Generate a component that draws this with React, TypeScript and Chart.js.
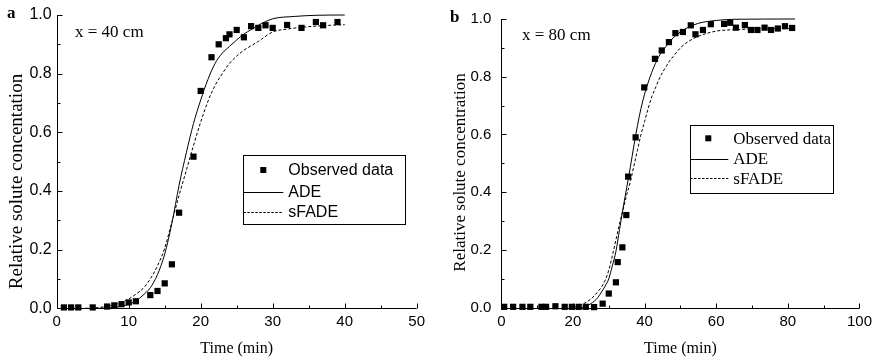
import React, { useEffect, useRef } from "react";
import { Chart, registerables } from "chart.js";

Chart.register(...registerables);

// ---------- Panel a (x = 40 cm) ----------
const aObsTime = [1, 2, 3, 5, 7, 8, 9, 10, 11, 13, 14, 15, 16, 17, 19, 20, 21.5, 22.5, 23.5, 24, 25, 26, 27, 28, 29, 30, 32, 34, 36, 37, 39];
const aObsConc = [0.003, 0.003, 0.003, 0.003, 0.006, 0.010, 0.014, 0.020, 0.024, 0.045, 0.059, 0.085, 0.150, 0.326, 0.517, 0.741, 0.856, 0.900, 0.921, 0.934, 0.949, 0.924, 0.962, 0.956, 0.965, 0.956, 0.966, 0.956, 0.976, 0.965, 0.976];
const aAdeTime = [6, 7, 8, 9, 10, 11, 12, 13, 14, 15, 16, 17, 18, 19, 20, 21, 22, 23, 24, 25, 26, 27, 28, 30, 33, 36, 40];
const aAdeConc = [0, 0.001, 0.003, 0.007, 0.014, 0.025, 0.045, 0.07, 0.115, 0.185, 0.29, 0.42, 0.53, 0.63, 0.71, 0.78, 0.835, 0.87, 0.893, 0.915, 0.935, 0.95, 0.965, 0.987, 0.995, 0.999, 1.0];
const aFadeTime = [4, 5, 6, 7, 8, 9, 10, 11, 12, 13, 14, 15, 16, 17, 18, 19, 20, 21, 22, 23, 24, 25, 26, 27, 28, 30, 32, 34, 36, 38, 40];
const aFadeConc = [0, 0.001, 0.003, 0.007, 0.012, 0.02, 0.032, 0.048, 0.068, 0.1, 0.145, 0.205, 0.295, 0.385, 0.47, 0.555, 0.635, 0.705, 0.76, 0.80, 0.835, 0.86, 0.88, 0.895, 0.91, 0.942, 0.952, 0.958, 0.962, 0.965, 0.967];

// ---------- Panel b (x = 80 cm) ----------
const bObsTime = [0.8, 3.3, 5.9, 8.1, 11.2, 12.5, 15.1, 17.7, 19.7, 21.6, 23.6, 25.9, 28.3, 30, 32, 32.5, 33.8, 34.9, 35.4, 37.5, 39.9, 42.9, 44.8, 46.8, 48.6, 50.7, 52.9, 54.2, 56.3, 58.5, 62.2, 63.9, 65.5, 68, 69.7, 71.5, 73.5, 75.3, 77.2, 79.2, 81.2];
const bObsConc = [0.003, 0.003, 0.003, 0.003, 0.003, 0.003, 0.005, 0.003, 0.003, 0.003, 0.003, 0.002, 0.014, 0.049, 0.088, 0.158, 0.209, 0.321, 0.454, 0.590, 0.763, 0.862, 0.891, 0.920, 0.951, 0.955, 0.978, 0.947, 0.962, 0.982, 0.983, 0.987, 0.970, 0.979, 0.962, 0.962, 0.970, 0.962, 0.967, 0.975, 0.969];
const bAdeTime = [22, 23, 24, 25, 26, 27, 28, 29, 30, 31, 32, 33, 34, 35, 36, 37, 38, 39, 40, 41, 42, 43, 44, 45, 46, 48, 50, 52, 55, 60, 65, 82];
const bAdeConc = [0, 0.002, 0.007, 0.014, 0.023, 0.036, 0.055, 0.075, 0.10, 0.145, 0.195, 0.27, 0.345, 0.415, 0.485, 0.56, 0.63, 0.69, 0.74, 0.78, 0.815, 0.845, 0.87, 0.89, 0.905, 0.935, 0.955, 0.97, 0.985, 0.995, 0.999, 1.0];
const bFadeTime = [19, 20, 21, 22, 23, 24, 25, 26, 27, 28, 29, 30, 31, 32, 33, 34, 35, 36, 37, 38, 39, 40, 41, 42, 43, 44, 45, 46, 47, 48, 50, 52, 55, 60, 65, 70, 82];
const bFadeConc = [0, 0.001, 0.004, 0.008, 0.014, 0.021, 0.03, 0.042, 0.056, 0.072, 0.095, 0.13, 0.18, 0.235, 0.29, 0.34, 0.39, 0.435, 0.49, 0.545, 0.60, 0.645, 0.69, 0.73, 0.76, 0.79, 0.815, 0.835, 0.855, 0.87, 0.90, 0.92, 0.94, 0.958, 0.963, 0.965, 0.967];

const legendLabels = ["Observed data", "ADE", "sFADE"];
const yTickValues = [0, 0.2, 0.4, 0.6, 0.8, 1.0];

const SERIF = "'Liberation Serif', 'Times New Roman', serif";
const SANS = "'Liberation Sans', Arial, sans-serif";

const zip = (xs: number[], ys: number[]) => xs.map((x, i) => ({ x, y: ys[i] }));

type PanelCfg = {
  width: number;
  height: number;
  padTop: number;
  padRight: number;
  yAxisWidth: number;
  xAxisHeight: number;
  xMax: number;
  xMajor: number;
  xMinor: number;
  yTickFont: number;
  yTickPad: number;
  obsT: number[];
  obsC: number[];
  adeT: number[];
  adeC: number[];
  fadeT: number[];
  fadeC: number[];
  letter: string;
  letterX: number;
  letterY: number;
  posText: string;
  posX: number;
  posY: number;
  yTitle: string;
  yTitleFont: number;
  yTitleX: number;
  yTitleY: number;
  legend: { l: number; t: number; r: number; b: number; rows: number[]; textX: number; markX: number; lineEnd: number; font: string };
};

function makeChart(canvas: HTMLCanvasElement, c: PanelCfg) {
  const decor = {
    id: "decor",
    afterDraw(chart: any) {
      const { ctx, chartArea } = chart;
      const { left, right, top, bottom } = chartArea;
      const xs = chart.scales.x;
      const ys = chart.scales.y;
      ctx.save();
      ctx.strokeStyle = "#000";
      ctx.fillStyle = "#000";
      ctx.lineWidth = 1;
      const L = Math.round(left) + 0.5;
      const B = Math.round(bottom) + 0.5;
      ctx.beginPath();
      ctx.moveTo(L, top);
      ctx.lineTo(L, B);
      ctx.lineTo(right, B);
      ctx.stroke();
      for (let v = 0; v <= c.xMax + 1e-9; v += c.xMinor) {
        const px = Math.round(xs.getPixelForValue(v)) + 0.5;
        const major = Math.abs(v / c.xMajor - Math.round(v / c.xMajor)) < 1e-6;
        ctx.beginPath();
        ctx.moveTo(px, B);
        ctx.lineTo(px, B - (major ? 5 : 3));
        ctx.stroke();
      }
      for (let i = 0; i <= 10; i++) {
        const v = i / 10;
        const py = Math.round(ys.getPixelForValue(v)) + 0.5;
        ctx.beginPath();
        ctx.moveTo(L, py);
        ctx.lineTo(L + (i % 2 === 0 ? 5 : 3), py);
        ctx.stroke();
      }
      ctx.font = `bold 17px ${SERIF}`;
      ctx.textAlign = "left";
      ctx.textBaseline = "alphabetic";
      ctx.fillText(c.letter, c.letterX, c.letterY);
      ctx.font = `17px ${SERIF}`;
      ctx.fillText(c.posText, c.posX, c.posY);
      ctx.font = `16px ${SERIF}`;
      ctx.textAlign = "center";
      ctx.fillText("Time (min)", (left + right) / 2, 353);
      ctx.save();
      ctx.translate(c.yTitleX, c.yTitleY);
      ctx.rotate(-Math.PI / 2);
      ctx.font = `${c.yTitleFont}px ${SERIF}`;
      ctx.textAlign = "center";
      ctx.fillText(c.yTitle, 0, 0);
      ctx.restore();
      const lg = c.legend;
      ctx.strokeRect(Math.round(lg.l) + 0.5, Math.round(lg.t) + 0.5, Math.round(lg.r - lg.l), Math.round(lg.b - lg.t));
      ctx.fillRect(lg.markX - 3, lg.rows[0] - 3, 6, 6);
      ctx.beginPath();
      ctx.moveTo(lg.l, Math.round(lg.rows[1]) + 0.5);
      ctx.lineTo(lg.lineEnd, Math.round(lg.rows[1]) + 0.5);
      ctx.stroke();
      ctx.setLineDash([2.5, 1.5]);
      ctx.beginPath();
      ctx.moveTo(lg.l, Math.round(lg.rows[2]) + 0.5);
      ctx.lineTo(lg.lineEnd, Math.round(lg.rows[2]) + 0.5);
      ctx.stroke();
      ctx.setLineDash([]);
      ctx.font = lg.font;
      ctx.textAlign = "left";
      ctx.textBaseline = "middle";
      legendLabels.forEach((t, i) => ctx.fillText(t, lg.textX, lg.rows[i] + 1));
      ctx.restore();
    },
  };

  return new Chart(canvas, {
    type: "scatter",
    data: {
      datasets: [
        {
          label: legendLabels[0],
          data: zip(c.obsT, c.obsC),
          pointStyle: "rect",
          pointRadius: 4.4,
          pointBorderWidth: 0,
          backgroundColor: "#000",
          borderColor: "#000",
          showLine: false,
          clip: false as any,
        },
        {
          label: legendLabels[1],
          data: zip(c.adeT, c.adeC),
          showLine: true,
          borderColor: "#000",
          borderWidth: 1,
          pointRadius: 0,
          cubicInterpolationMode: "monotone",
          clip: false as any,
        },
        {
          label: legendLabels[2],
          data: zip(c.fadeT, c.fadeC),
          showLine: true,
          borderColor: "#000",
          borderWidth: 1,
          borderDash: [3, 2],
          pointRadius: 0,
          cubicInterpolationMode: "monotone",
          clip: false as any,
        },
      ],
    },
    options: {
      responsive: false,
      animation: false,
      devicePixelRatio: 1,
      layout: { padding: { top: c.padTop, right: c.padRight, left: 0, bottom: 0 } },
      plugins: { legend: { display: false }, tooltip: { enabled: false } },
      scales: {
        x: {
          type: "linear",
          min: 0,
          max: c.xMax,
          grid: { display: false, drawTicks: false },
          border: { display: false },
          ticks: {
            stepSize: c.xMajor,
            color: "#000",
            padding: 5,
            maxRotation: 0,
            autoSkip: false,
            font: { family: SANS, size: 15 },
          },
          afterFit: (s: any) => {
            s.height = c.xAxisHeight;
          },
        },
        y: {
          type: "linear",
          min: 0,
          max: 1,
          grid: { display: false, drawTicks: false },
          border: { display: false },
          afterBuildTicks: (s: any) => {
            s.ticks = yTickValues.map((v) => ({ value: v }));
          },
          ticks: {
            color: "#000",
            padding: c.yTickPad,
            autoSkip: false,
            font: { family: SANS, size: c.yTickFont },
            callback: (v: any) => Number(v).toFixed(1),
          },
          afterFit: (s: any) => {
            s.width = c.yAxisWidth;
          },
        },
      },
    },
    plugins: [decor],
  } as any);
}

const panelA: PanelCfg = {
  width: 437,
  height: 359,
  padTop: 15,
  padRight: 20.3,
  yAxisWidth: 56.7,
  xAxisHeight: 50.7,
  xMax: 50,
  xMajor: 10,
  xMinor: 5,
  yTickFont: 16,
  yTickPad: 5,
  obsT: aObsTime,
  obsC: aObsConc,
  adeT: aAdeTime,
  adeC: aAdeConc,
  fadeT: aFadeTime,
  fadeC: aFadeConc,
  letter: "a",
  letterX: 7,
  letterY: 18,
  posText: "x = 40 cm",
  posX: 75,
  posY: 37,
  yTitle: "Relative solute concentation",
  yTitleFont: 19,
  yTitleX: 21.7,
  yTitleY: 181.5,
  legend: { l: 243.3, t: 154.5, r: 405, b: 223, rows: [170, 191.7, 211.7], textX: 288.3, markX: 263.3, lineEnd: 283.3, font: `16px ${SANS}` },
};

const panelB: PanelCfg = {
  width: 440,
  height: 359,
  padTop: 17,
  padRight: 17.3,
  yAxisWidth: 64.3,
  xAxisHeight: 51.3,
  xMax: 100,
  xMajor: 20,
  xMinor: 10,
  yTickFont: 15,
  yTickPad: 10,
  obsT: bObsTime,
  obsC: bObsConc,
  adeT: bAdeTime,
  adeC: bAdeConc,
  fadeT: bFadeTime,
  fadeC: bFadeConc,
  letter: "b",
  letterX: 13,
  letterY: 22,
  posText: "x = 80 cm",
  posX: 85,
  posY: 40,
  yTitle: "Relative solute concentration",
  yTitleFont: 17,
  yTitleX: 28.3,
  yTitleY: 172.5,
  legend: { l: 253, t: 125, r: 395.7, b: 192.7, rows: [138.3, 159, 178.3], textX: 296.3, markX: 271.3, lineEnd: 291.3, font: `17px ${SERIF}` },
};

function Panel({ cfg, left }: { cfg: PanelCfg; left: number }) {
  const ref = useRef<HTMLCanvasElement | null>(null);
  useEffect(() => {
    if (!ref.current) return;
    const chart = makeChart(ref.current, cfg);
    return () => chart.destroy();
  }, [cfg]);
  return (
    <canvas
      ref={ref}
      width={cfg.width}
      height={cfg.height}
      style={{ position: "absolute", left, top: 0, width: cfg.width, height: cfg.height, display: "block" }}
    />
  );
}

export default function App() {
  return (
    <div style={{ position: "fixed", left: 0, top: 0, width: 877, height: 359, background: "#fff" }}>
      <Panel cfg={panelA} left={0} />
      <Panel cfg={panelB} left={437} />
    </div>
  );
}
